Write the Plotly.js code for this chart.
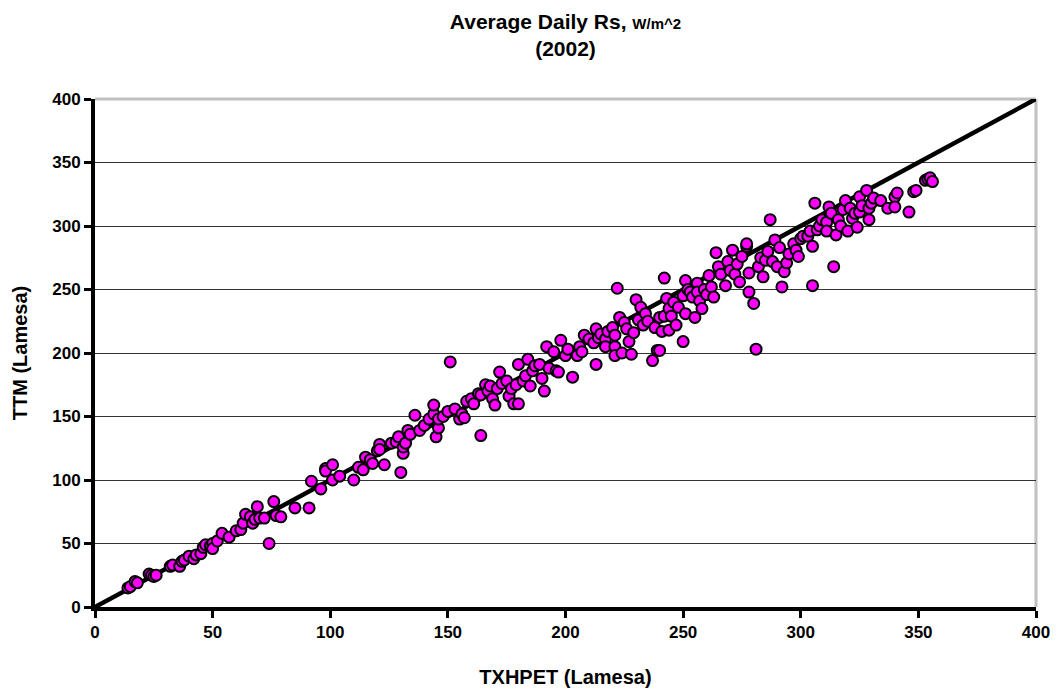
<!DOCTYPE html>
<html>
<head>
<meta charset="utf-8">
<script src="https://cdn.plot.ly/plotly-3.0.1.min.js"></script>
<style>html,body{margin:0;padding:0;background:#fff;}#chart{width:1057px;height:694px;}</style>
</head>
<body>
<div id="chart"></div>
<script>
// TXHPET (Lamesa) values, W/m^2
var txhpet = [14,15,17,18,23,24,25,26,32,33,36,37,38,40,42,43,45,46,47,49,50,50,52,54,57,60,62,63,64,66,67,68,69,70,72,74,76,77,79,85,91,92,96,98,98,101,101,104,110,112,114,115,117,118,120,121,121,123,126,128,129,130,131,131,132,133,134,136,138,140,142,144,144,145,146,146,148,150,151,153,155,156,157,158,160,161,163,164,164,166,167,168,169,170,171,172,173,175,176,177,178,179,180,180,182,183,184,185,186,187,189,190,191,192,193,195,196,197,198,200,201,203,205,206,207,208,210,212,213,213,214,215,217,217,218,220,221,221,222,221,223,224,225,226,227,228,229,230,231,232,233,234,235,237,238,239,240,240,241,242,242,243,244,244,245,246,247,248,250,250,251,251,252,253,254,255,256,256,257,258,259,260,261,262,263,264,265,266,268,269,270,271,272,273,274,275,277,277,278,278,280,281,282,283,284,285,286,287,288,289,290,291,292,293,294,295,297,298,299,300,301,303,304,305,305,306,307,308,309,311,311,312,313,314,315,316,317,318,319,320,321,322,323,324,325,325,326,328,329,329,330,331,334,337,340,341,340,346,348,349,353,354,355,356];
// TTM (Lamesa) values, W/m^2
var ttm = [15,16,20,19,26,25,24,25,32,33,32,36,37,40,38,41,42,47,49,48,50,46,52,58,55,60,61,66,73,71,66,69,79,70,70,50,83,72,71,78,78,99,93,109,107,112,100,103,100,110,108,118,116,113,123,128,124,112,129,130,134,106,121,126,129,139,136,151,139,143,148,152,159,134,141,148,150,154,193,156,148,152,149,162,164,160,168,135,167,175,170,174,164,159,172,185,176,178,166,172,160,175,191,160,178,182,195,174,186,190,191,180,170,205,188,201,186,185,210,198,203,181,198,205,201,214,211,208,219,191,212,215,211,205,217,220,214,205,251,198,228,200,224,219,209,199,216,242,226,236,222,231,225,194,220,202,228,202,217,229,259,243,235,218,229,240,222,236,209,245,257,231,250,248,244,228,255,248,241,235,250,246,261,252,244,279,268,262,253,272,265,281,262,270,256,276,284,286,263,248,239,203,268,275,260,273,280,305,272,289,268,283,252,264,271,278,286,281,276,290,292,292,296,253,284,318,297,300,305,303,296,315,310,268,293,305,300,313,320,296,314,306,310,299,311,323,316,328,314,305,318,322,320,314,323,326,315,311,327,328,336,337,338,335];
// 1:1 reference line
var lineX = [0, 400];
var lineY = [0, 400];
var tickVals = [0, 50, 100, 150, 200, 250, 300, 350, 400];
var tickText = tickVals.map(function (v) { return '<b>' + v + '</b>'; });

var font = 'Liberation Sans, Arial, sans-serif';
var traces = [
  {x: lineX, y: lineY, type: 'scatter', mode: 'lines', line: {color: '#000', width: 4.5}, hoverinfo: 'skip', showlegend: false, cliponaxis: true},
  {x: txhpet, y: ttm, type: 'scatter', mode: 'markers',
   marker: {size: 11, color: '#FF00FF', line: {color: '#000', width: 2}}, showlegend: false, cliponaxis: false}
];
var layout = {
  width: 1057, height: 694,
  margin: {l: 95, r: 21, t: 99, b: 87},
  paper_bgcolor: '#fff', plot_bgcolor: '#fff',
  font: {family: font, color: '#000'},
  title: {text: '<b>Average Daily Rs, <span style="font-size:15px">W/m^2</span><br>(2002)</b>',
          font: {family: font, size: 21, color: '#000'}, x: 0.535, xref: 'container', y: 0.958, yref: 'container', yanchor: 'middle'},
  xaxis: {range: [0, 400], tickvals: tickVals, ticktext: tickText, showgrid: false, zeroline: false,
          showline: true, linecolor: '#000', linewidth: 4, ticks: 'outside', ticklen: 7, tickwidth: 3, tickcolor: '#000',
          tickfont: {family: font, size: 17, color: '#000'},
          title: {text: '<b>TXHPET (Lamesa)</b>', font: {family: font, size: 20, color: '#000'}, standoff: 30}},
  yaxis: {range: [0, 400], tickvals: tickVals, ticktext: tickText, showgrid: true, gridcolor: '#333', gridwidth: 1,
          zeroline: false, showline: true, linecolor: '#000', linewidth: 4, ticks: 'outside', ticklen: 7, tickwidth: 3, tickcolor: '#000',
          tickfont: {family: font, size: 17, color: '#000'},
          title: {text: '<b>TTM (Lamesa)</b>', font: {family: font, size: 20, color: '#000'}, standoff: 20}},
  shapes: [
    {type: 'line', xref: 'paper', yref: 'paper', x0: 0, x1: 1, y0: 1, y1: 1, line: {color: '#c0c0c0', width: 3}, layer: 'below'},
    {type: 'line', xref: 'paper', yref: 'paper', x0: 1, x1: 1, y0: 0, y1: 1, line: {color: '#c0c0c0', width: 3}, layer: 'below'}
  ]
};
Plotly.newPlot('chart', traces, layout, {displayModeBar: false, staticPlot: true});
</script>
</body>
</html>
